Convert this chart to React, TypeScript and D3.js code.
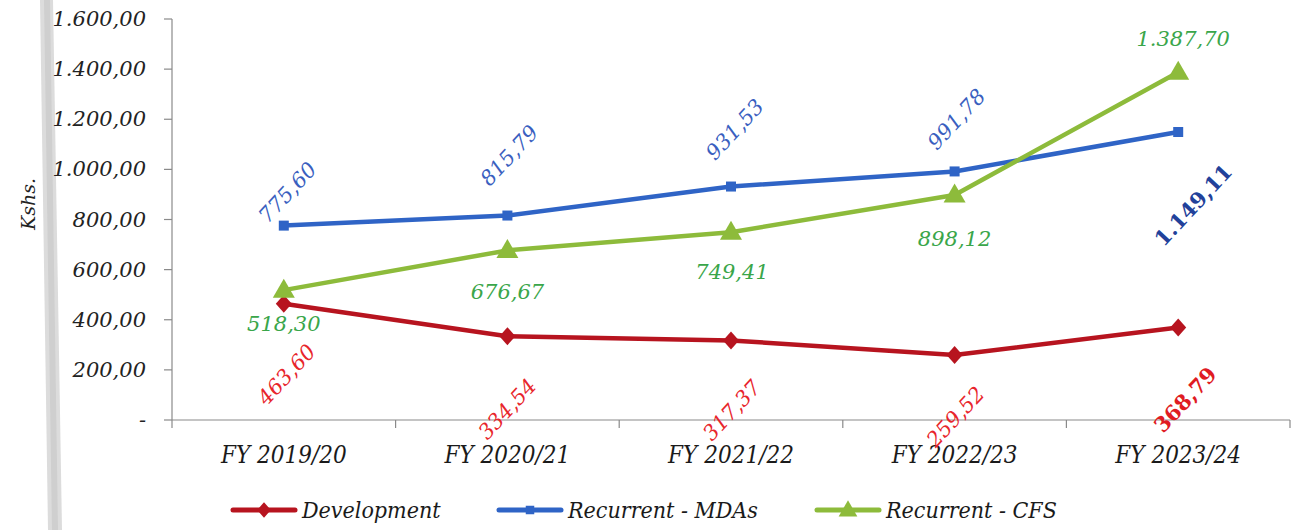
import React from 'react';
import * as d3 from 'd3';

const categories = ['FY 2019/20', 'FY 2020/21', 'FY 2021/22', 'FY 2022/23', 'FY 2023/24'];
const development = [463.6, 334.54, 317.37, 259.52, 368.79];
const recurrentMDAs = [775.6, 815.79, 931.53, 991.78, 1149.11];
const recurrentCFS = [518.3, 676.67, 749.41, 898.12, 1387.7];
const yTicks = [0, 200, 400, 600, 800, 1000, 1200, 1400, 1600];
const seriesNames = ['Development', 'Recurrent - MDAs', 'Recurrent - CFS'];
const yTitle = 'Kshs.';

// label placement (pixel offsets from point) — layout config, not data
const devLabelOffsets = [[3, 71], [0, 73], [1, 70], [1, 62], [7, 72]];
const mdaLabelOffsets = [[4, -33], [2, -60], [4, -57], [2, -52], [15, 73]];
const cfsLabelOffsets = [[0, 34], [0, 42], [1, 40], [0, 44], [5, -33]];

const W = 1294;
const H = 530;
const left = 172;
const right = 1290;
const top = 19;
const bottom = 420;

const locale = d3.formatLocale({ decimal: ',', thousands: '.', grouping: [3], currency: ['', ''] });
const fmt = locale.format(',.2f');
const tickFmt = (v: number) => (v === 0 ? '-' : fmt(v));

const serif = "'DejaVu Serif', serif";
const condensed = "'DejaVu Serif Condensed', 'DejaVu Serif', serif";

function Marker({ type, x, y, color, s = 1 }: { type: string; x: number; y: number; color: string; s?: number }) {
  if (type === 'diamond') {
    const w = 8 * s, h = 9 * s;
    return <path d={`M${x},${y - h}L${x + w},${y}L${x},${y + h}L${x - w},${y}Z`} fill={color} />;
  }
  if (type === 'square') {
    const a = 5 * s;
    return <rect x={x - a} y={y - a} width={2 * a} height={2 * a} fill={color} />;
  }
  const w = 11 * s, h = 19 * s;
  return <path d={`M${x},${y - h * 0.6}L${x + w},${y + h * 0.4}L${x - w},${y + h * 0.4}Z`} fill={color} />;
}

export default function App() {
  const x = d3.scaleBand<string>().domain(categories).range([left, right]).padding(0);
  const y = d3.scaleLinear().domain([0, 1600]).range([bottom, top]);
  const cx = (c: string) => (x(c) as number) + x.bandwidth() / 2;

  const line = d3
    .line<number>()
    .x((_, i) => cx(categories[i]))
    .y((d) => y(d));

  const series = [
    { name: seriesNames[0], values: development, color: '#b7141f', labelColor: '#e8252b', marker: 'diamond', offsets: devLabelOffsets, rotate: true, boldLast: true },
    { name: seriesNames[1], values: recurrentMDAs, color: '#2f64c6', labelColor: '#3a5fbf', marker: 'square', offsets: mdaLabelOffsets, rotate: true, boldLast: true },
    { name: seriesNames[2], values: recurrentCFS, color: '#8dbb3b', labelColor: '#3aa64a', marker: 'triangle', offsets: cfsLabelOffsets, rotate: false, boldLast: false },
  ];

  const boundaries = categories.map((c) => x(c) as number).concat([right]);
  const legendItems = [
    { lx: 233, tx: 302 },
    { lx: 499, tx: 568 },
    { lx: 817, tx: 886 },
  ];

  return (
    <svg width={W} height={H} style={{ position: 'absolute', left: 0, top: 0, background: '#fff' }}>
      <rect x={0} y={0} width={W} height={H} fill="#fff" />
      {/* scan binding strip */}
      <path d="M40,0L53,0L62,530L48,530Z" fill="#dcdcdc" />
      <path d="M44,0L50,0L58,530L52,530Z" fill="#cfcfcf" />

      {/* y axis */}
      <line x1={left} x2={left} y1={top} y2={bottom} stroke="#8a8a8a" strokeWidth={1.2} />
      {yTicks.map((t) => (
        <g key={t}>
          <line x1={left - 8} x2={left} y1={y(t)} y2={y(t)} stroke="#8a8a8a" strokeWidth={1.2} />
          <text
            x={146}
            y={y(t)}
            textAnchor="end"
            dominantBaseline="central"
            fontFamily={serif}
            fontStyle="italic"
            fontSize={21}
            fill="#222"
          >
            {tickFmt(t)}
          </text>
        </g>
      ))}
      <text
        transform="translate(28,204) rotate(-90)"
        textAnchor="middle"
        dominantBaseline="central"
        fontFamily={serif}
        fontStyle="italic"
        fontSize={19}
        fill="#222"
      >
        {yTitle}
      </text>

      {/* x axis */}
      <line x1={left} x2={right} y1={bottom} y2={bottom} stroke="#8a8a8a" strokeWidth={1.2} />
      {boundaries.map((b, i) => (
        <line key={i} x1={b} x2={b} y1={bottom} y2={bottom + 8} stroke="#8a8a8a" strokeWidth={1.2} />
      ))}
      {categories.map((c) => (
        <text
          key={c}
          x={cx(c)}
          y={455}
          textAnchor="middle"
          dominantBaseline="central"
          fontFamily={condensed}
          fontStyle="italic"
          fontStretch="condensed"
          fontSize={24}
          fill="#1a1a1a"
        >
          {c}
        </text>
      ))}

      {/* lines */}
      {series.map((s) => (
        <g key={s.name}>
          <path d={line(s.values) as string} fill="none" stroke={s.color} strokeWidth={4.5} strokeLinejoin="round" />
          {s.values.map((v, i) => (
            <Marker key={i} type={s.marker} x={cx(categories[i])} y={y(v)} color={s.color} />
          ))}
        </g>
      ))}

      {/* data labels */}
      {series.map((s) =>
        s.values.map((v, i) => {
          const px = cx(categories[i]) + s.offsets[i][0];
          const py = y(v) + s.offsets[i][1];
          const bold = s.boldLast && i === s.values.length - 1;
          const fill = bold && s.marker === 'square' ? '#22419a' : bold ? '#e01b22' : s.labelColor;
          return (
            <text
              key={s.name + i}
              transform={`translate(${px},${py})${s.rotate ? ' rotate(-47)' : ''}`}
              textAnchor="middle"
              dominantBaseline="central"
              fontFamily={serif}
              fontStyle={bold ? 'normal' : 'italic'}
              fontWeight={bold ? 'bold' : 'normal'}
              fontSize={21}
              fill={fill}
            >
              {fmt(v)}
            </text>
          );
        })
      )}

      {/* legend */}
      {series.map((s, i) => (
        <g key={'lg' + s.name}>
          <line x1={legendItems[i].lx} x2={legendItems[i].lx + 62} y1={510} y2={510} stroke={s.color} strokeWidth={5} strokeLinecap="round" />
          <Marker type={s.marker} x={legendItems[i].lx + 31} y={510} color={s.color} s={0.85} />
          <text
            x={legendItems[i].tx}
            y={510}
            dominantBaseline="central"
            fontFamily={condensed}
            fontStyle="italic"
            fontStretch="condensed"
            fontSize={23}
            fill="#1a1a1a"
          >
            {s.name}
          </text>
        </g>
      ))}
    </svg>
  );
}
